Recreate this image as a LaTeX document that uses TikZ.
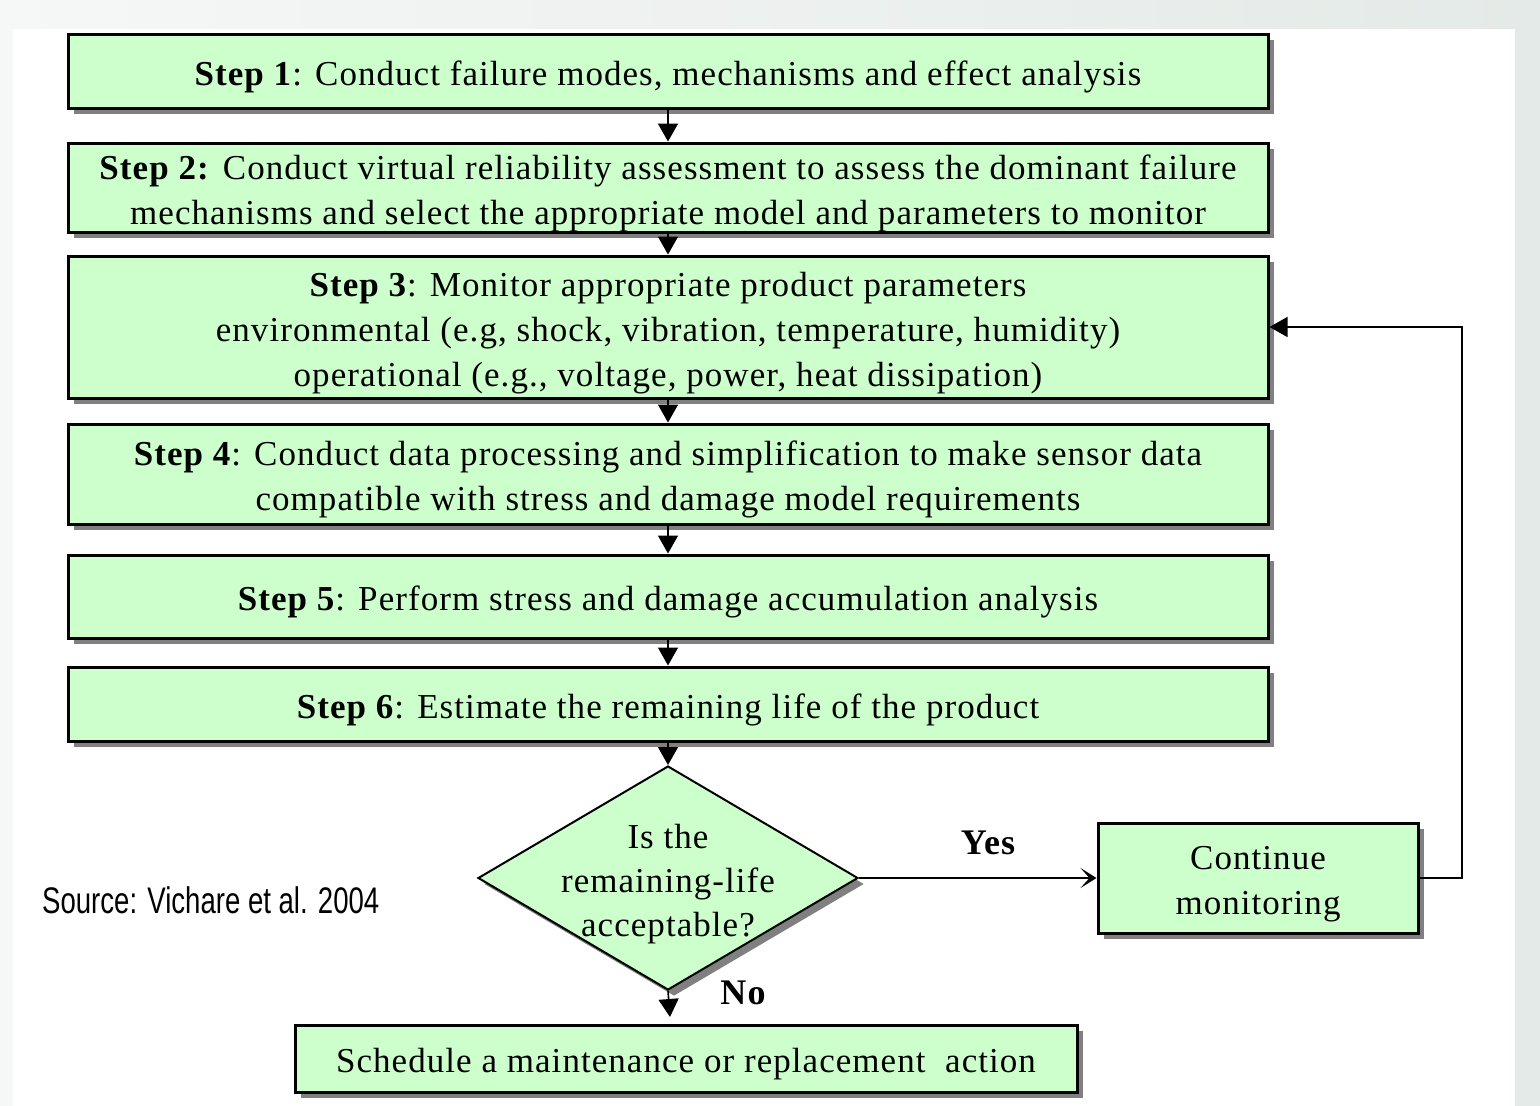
\documentclass[tikz,border=0pt]{standalone}
\usepackage{fontspec}
\setmainfont[LetterSpace=3]{Liberation Serif}
\newfontfamily\srcfont[FakeStretch=0.745]{Liberation Sans}
\usetikzlibrary{shapes.geometric,shadows,arrows.meta}
\definecolor{boxgreen}{HTML}{CCFFCC}
\definecolor{shadowgray}{HTML}{808080}
\definecolor{bgleft}{HTML}{F6F7F7}
\definecolor{bgright}{HTML}{E4EAE7}
\newcommand\lnstrut{\rule[-8pt]{0pt}{44pt}}
\begin{document}
\begin{tikzpicture}[x=1pt,y=-1pt,
  shad/.style={drop shadow={shadow xshift=6pt,shadow yshift=-6pt,fill=shadowgray,opacity=1}},
  box/.style={draw=black,line width=3pt,fill=boxgreen,inner sep=0pt,align=center,
    font=\fontsize{35}{45}\selectfont,shad},
  stepbox/.style={box,minimum width=1200pt},
  dia/.style={diamond,draw=black,line width=2pt,fill=boxgreen,inner sep=0pt,
    minimum width=380pt,minimum height=224pt,shad},
  arr/.style={line width=1.6pt,-{Triangle[length=18pt,width=20pt]}},
  thinarr/.style={line width=1.4pt},
  lbl/.style={font=\fontsize{36}{45}\selectfont\bfseries}]
\useasboundingbox (0,0) rectangle (1540,1106);
\shade[left color=bgleft,right color=bgright] (0,0) rectangle (1540,1106);
\fill[white] (13,29) rectangle (1515,1106);

\node[stepbox,minimum height=74pt] (s1) at (668,71)
  {\lnstrut\textbf{Step 1}: Conduct failure modes, mechanisms and effect analysis};
\node[stepbox,minimum height=89pt] (s2) at (668,187.5)
  {\lnstrut\textbf{Step 2:} Conduct virtual reliability assessment to assess the dominant failure\\
   \lnstrut mechanisms and select the appropriate model and parameters to monitor};
\node[stepbox,minimum height=142pt] (s3) at (668,327)
  {\lnstrut\textbf{Step 3}: Monitor appropriate product parameters\\
   \lnstrut environmental (e.g, shock, vibration, temperature, humidity)\\
   \lnstrut operational (e.g., voltage, power, heat dissipation)};
\node[stepbox,minimum height=100pt] (s4) at (668,474)
  {\lnstrut\textbf{Step 4}: Conduct data processing and simplification to make sensor data\\
   \lnstrut compatible with stress and damage model requirements};
\node[stepbox,minimum height=83pt] (s5) at (668,596.5)
  {\lnstrut\textbf{Step 5}: Perform stress and damage accumulation analysis};
\node[stepbox,minimum height=74pt] (s6) at (668,704)
  {\lnstrut\textbf{Step 6}: Estimate the remaining life of the product};
\node[dia] (dec) at (668,878) {};
\node[align=center,inner sep=0pt,font=\fontsize{35}{44}\selectfont] (dectext) at (dec.center)
  {\lnstrut Is the\\\lnstrut remaining-life\\\lnstrut acceptable?};
\node[box,minimum width=320pt,minimum height=110pt] (cont) at (1258,878)
  {\lnstrut Continue\\\lnstrut monitoring};
\node[box,minimum width=782pt,minimum height=67pt] (sched) at (686,1058.5)
  {\lnstrut Schedule a maintenance or replacement~~action};

\node[anchor=west,inner sep=0pt,font=\srcfont\fontsize{37}{40}\selectfont] (src) at (42,900)
  {Source: Vichare et al. 2004};
\node[lbl] (yes) at (988,843) {Yes};
\node[lbl] (no) at (743,993) {No};

\coordinate (fb1) at (1462,878);
\coordinate (fb2) at (1462,327);
\coordinate (nend) at (670,1017);

\draw[arr] (s1) -- (s2);
\draw[arr] (s2) -- (s3);
\draw[arr] (s3) -- (s4);
\draw[arr] (s4) -- (s5);
\draw[arr] (s5) -- (s6);
\draw[arr] (s6) -- (dec);
\draw[arr] (dec.south) -- (nend);
\draw[thinarr,-{Stealth[length=16pt,width=20pt,inset=9pt]}] (dec.east) -- (cont.west);
\draw[thinarr,-{Triangle[length=18pt,width=20pt]}] (cont.east) -- (fb1) -- (fb2) -- (s3.east);
\end{tikzpicture}
\end{document}
